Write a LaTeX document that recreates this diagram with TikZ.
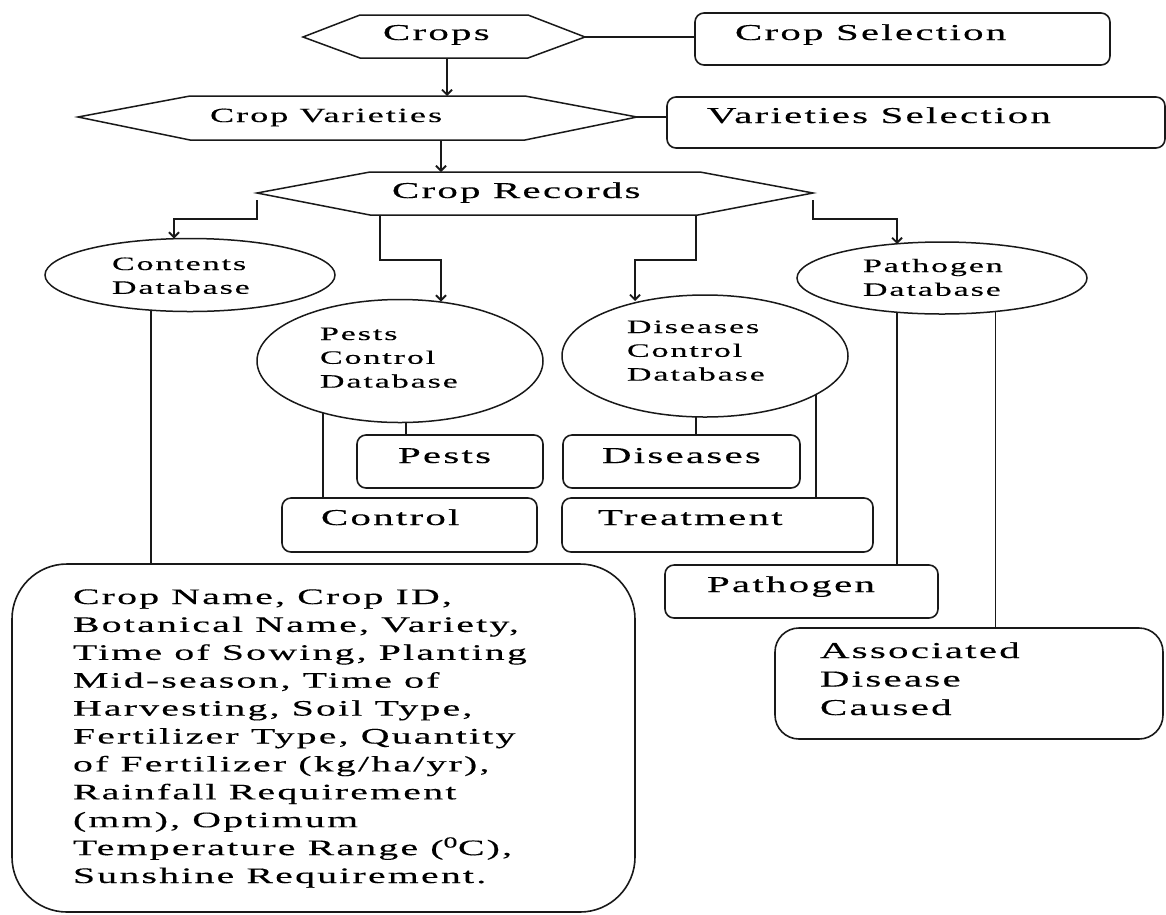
\documentclass[tikz,border=0pt]{standalone}
\usepackage{fontspec}
\setmainfont{Liberation Serif}[FakeStretch=1.8,LetterSpace=10,FakeBold=0.3]
\usetikzlibrary{shapes.geometric,arrows.meta}
\newcommand{\ml}[1]{\begin{tabular}[t]{@{}l@{}}#1\end{tabular}}
\tikzset{
  ln/.style={line width=1.8pt, draw=black!90},
  arr/.style={ln, -{Straight Barb[length=5pt,width=10pt]}},
  rbox/.style={draw=black!90, line width=1.6pt, rounded corners=9pt, inner sep=0pt, outer sep=0pt},
  ell/.style={ellipse, draw=black!90, line width=1.5pt, inner sep=0pt, outer sep=0pt},
  hex/.style={draw=black!90, line width=1.5pt, line join=miter},
  bt/.style={anchor=base west, inner sep=0pt, outer sep=0pt, font=\fontsize{22.7}{27}\selectfont},
  vt/.style={anchor=base west, inner sep=0pt, outer sep=0pt, font=\fontsize{20.1}{24}\selectfont},
  et/.style={anchor=base west, inner sep=0pt, outer sep=0pt, font=\fontsize{18.9}{23.8}\selectfont},
  assoct/.style={anchor=base west, inner sep=0pt, outer sep=0pt, font=\fontsize{22.7}{28.5}\selectfont},
  bigt/.style={anchor=base west, inner sep=0pt, outer sep=0pt, font=\fontsize{22.1}{27.9}\selectfont},
}
\begin{document}
\begin{tikzpicture}[x=1pt,y=-1pt]
\useasboundingbox (0,0) rectangle (1166,914);
\fill[white] (0,0) rectangle (1166,914);

% hexagons
\coordinate (crW) at (303,37);  \coordinate (crE) at (585,37);
\draw[hex] (crW) -- (360,15) -- (528,15) -- (crE) -- (528,58) -- (360,58) -- cycle;
\coordinate (crS) at (447,58);
\node[bt] (crops) at (383,40) {Crops};

\coordinate (cvW) at (78,117);  \coordinate (cvE) at (637,117);
\draw[hex] (cvW) -- (190,96) -- (525,96) -- (cvE) -- (525,140) -- (190,140) -- cycle;
\coordinate (cvN) at (447,96); \coordinate (cvS) at (441,140);
\node[vt] (cv) at (210,122) {Crop Varieties};

\coordinate (rcW) at (257,193);  \coordinate (rcE) at (813,193);
\coordinate (rcSW) at (370,215); \coordinate (rcSE) at (698,215);
\draw[hex] (rcW) -- (370,172) -- (700,172) -- (rcE) -- (rcSE) -- (rcSW) -- cycle;
\coordinate (rcN) at (441,172);
\coordinate (p2) at (380,215); \coordinate (p3) at (696,215);
\node[bt] (rc) at (392,198) {Crop Records};

% rounded boxes
\node[rbox, minimum width=415, minimum height=52] (cs) at (902.5,39) {};
\node[bt] (csT) at (735,40) {Crop Selection};
\node[rbox, minimum width=498, minimum height=51] (vs) at (916,122.5) {};
\node[bt] (vsT) at (707,123) {Varieties Selection};

% ellipses
\node[ell, minimum width=290, minimum height=73] (cont) at (190,275) {};
\node[et] (contT) at (112,270) {\ml{Contents\\Database}};
\node[ell, minimum width=286, minimum height=123] (pest) at (400,361) {};
\node[et] (pestT) at (320,340) {\ml{Pests\\Control\\Database}};
\node[ell, minimum width=286, minimum height=122] (dis) at (705,356) {};
\node[et] (disT) at (627,333) {\ml{Diseases\\Control\\Database}};
\node[ell, minimum width=290, minimum height=72] (path) at (942,278) {};
\node[et] (pathT) at (863,272) {\ml{Pathogen\\Database}};

% lower boxes
\node[rbox, minimum width=186, minimum height=53] (pb) at (450,461.5) {};
\node[bt] (pbT) at (398,463) {Pests};
\node[rbox, minimum width=255, minimum height=54] (cb) at (409.5,525) {};
\node[bt] (cbT) at (321,525) {Control};
\node[rbox, minimum width=237, minimum height=53] (db) at (681.5,461.5) {};
\node[bt] (dbT) at (602,463) {Diseases};
\node[rbox, minimum width=311, minimum height=54] (tb) at (717.5,525) {};
\node[bt] (tbT) at (598,525) {Treatment};
\node[rbox, minimum width=273, minimum height=53] (pgb) at (801.5,591.5) {};
\node[bt] (pgbT) at (707,592) {Pathogen};
\node[rbox, rounded corners=24pt, minimum width=388, minimum height=111] (ab) at (969,683.5) {};
\node[assoct] (abT) at (820,658) {\ml{Associated\\Disease\\Caused}};
\node[rbox, rounded corners=55pt, minimum width=623, minimum height=348] (big) at (323.5,738) {};
\node[bigt] (bigT) at (73,604) {\ml{Crop Name, Crop ID,\\Botanical Name, Variety,\\Time of Sowing, Planting\\Mid-season, Time of\\Harvesting, Soil Type,\\Fertilizer Type, Quantity\\of Fertilizer (kg/ha/yr),\\Rainfall Requirement\\(mm), Optimum\\Temperature Range (\textsuperscript{0}C),\\Sunshine Requirement.}};

% connectors
\draw[ln] (crE) -- (crE -| cs.west);
\draw[arr] (crS) -- (cvN);
\draw[ln] (cvE) -- (cvE -| vs.west);
\draw[arr] (cvS) -- (rcN);

\draw[arr] ([yshift=-7pt]rcW) -- ++(0,19) -| ([xshift=-16pt]cont.north);
\draw[arr] (p2) -- ++(0,45) -| ([xshift=41pt,yshift=-2pt]pest.north);
\draw[arr] (p3) -- ++(0,45) -| ([xshift=-70pt,yshift=-6pt]dis.north);
\draw[arr] ([yshift=-7pt]rcE) -- ++(0,19) -| ([xshift=-45pt,yshift=-2pt]path.north);

\draw[ln] (cont.222.8) -- (cont.222.8 |- big.north);
\draw[ln] (pest.214.4) -- (pest.214.4 |- cb.north);
\draw[ln] ([xshift=6pt]pest.south) -- ([xshift=6pt]pest.south |- pb.north);
\draw[ln] ([xshift=-9pt]dis.south) -- ([xshift=-9pt]dis.south |- db.north);
\draw[ln] (dis.341.3) -- (dis.341.3 |- tb.north);
\draw[ln] (path.217.2) -- (path.217.2 |- pgb.north);
\draw[ln] (path.328.8) -- (path.328.8 |- ab.north);
\end{tikzpicture}
\end{document}
